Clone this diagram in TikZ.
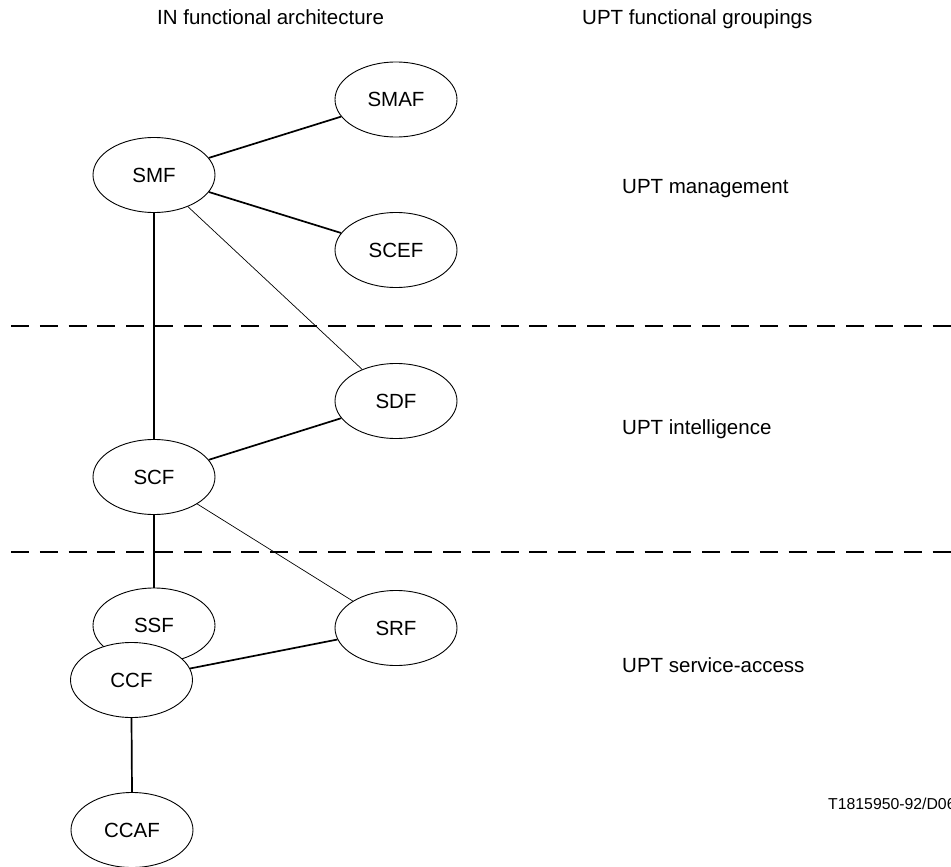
\documentclass[tikz,border=0pt]{standalone}
\usepackage{fontspec}
\setmainfont{Liberation Sans}
\usetikzlibrary{shapes.geometric}
\begin{document}
\begin{tikzpicture}[x=1pt,y=-1pt,
  fn/.style={ellipse,draw,line width=0.9pt,minimum width=122pt,minimum height=75pt,inner sep=0pt,fill=white,font=\fontsize{20.5}{24}\selectfont},
  lbl/.style={anchor=base west,inner sep=0pt,font=\fontsize{20.5}{24}\selectfont},
  thickline/.style={line width=1.7pt},
  thinline/.style={line width=0.7pt},
  sep/.style={line width=1.7pt,dash pattern=on 18pt off 10.8pt}]
\useasboundingbox (0,0) rectangle (951,867);
% separators
\coordinate (d1a) at (11,326); \coordinate (d1b) at (951,326);
\coordinate (d2a) at (11,552); \coordinate (d2b) at (951,552);
\draw[sep] (d1a) -- (d1b);
\draw[sep] (d2a) -- (d2b);
% nodes
\node[fn] (SMAF) at (396,99.5) {SMAF};
\node[fn] (SMF) at (154,175) {SMF};
\node[fn] (SCEF) at (396,250) {SCEF};
\node[fn] (SDF) at (396,401) {SDF};
\node[fn] (SCF) at (154,477) {SCF};
\node[fn] (SRF) at (396,628) {SRF};
\node[fn] (SSF) at (154,625.5) {SSF};
\node[fn] (CCF) at (131.5,680) {CCF};
\node[fn] (CCAF) at (132,830) {CCAF};
% connectors
\draw[thickline] (SMF) -- (SMAF);
\draw[thickline] (SMF) -- (SCEF);
\draw[thinline] (SMF) -- (SDF);
\draw[thickline] (SMF.south) -- (SCF.north);
\draw[thickline] (SCF) -- (SDF);
\draw[thinline] (SCF) -- (SRF);
\draw[thickline] (SCF.south) -- (SSF.north);
\draw[thickline] (CCF) -- (SRF);
\draw[thickline] (CCF.south) -- (CCAF.north);
% labels
\node[lbl] (h1) at (157,25) {IN functional architecture};
\node[lbl] (h2) at (582,25) {UPT functional groupings};
\node[lbl] (g1) at (622,193) {UPT management};
\node[lbl] (g2) at (622,434) {UPT intelligence};
\node[lbl] (g3) at (622,672) {UPT service-access};
\node[anchor=base west,inner sep=0pt,font=\fontsize{15.8}{18}\selectfont] (ref) at (828,809) {T1815950-92/D06};
\end{tikzpicture}
\end{document}
